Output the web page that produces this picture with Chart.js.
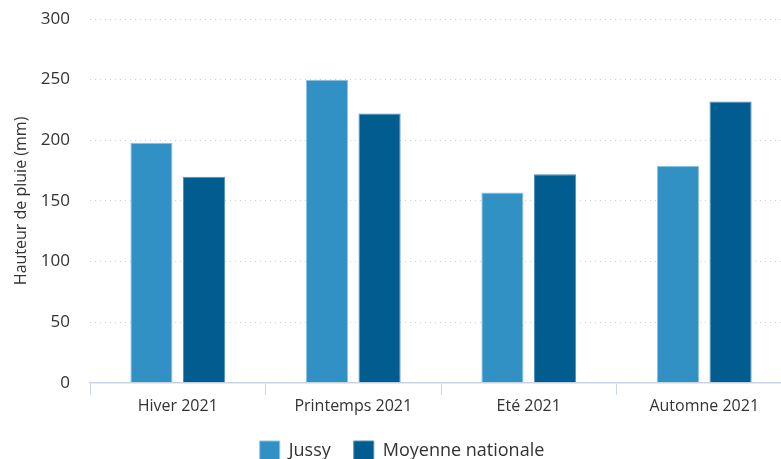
<!DOCTYPE html>
<html>
<head>
<meta charset="utf-8">
<script src="https://cdn.jsdelivr.net/npm/chart.js@4"></script>
<style>
  html, body { margin: 0; padding: 0; background: #fff; overflow: hidden; }
  #wrap { width: 792px; height: 470px; }
</style>
</head>
<body>
<div id="wrap"><canvas id="rain-chart"></canvas></div>
<script>
const seasons = ['Hiver 2021', 'Printemps 2021', 'Eté 2021', 'Automne 2021'];
const jussy = [198, 250, 157, 179];
const nationalAverage = [170, 222, 172, 232];
const yTicks = [0, 50, 100, 150, 200, 250, 300];

const font = "'Open Sans', sans-serif";
const ctx = document.getElementById('rain-chart').getContext('2d');

const rainChart = new Chart(ctx, {
    type: 'bar',
    data: {
        labels: seasons,
        datasets: [{
            label: 'Jussy',
            data: jussy,
            backgroundColor: '#3190c4',
            borderColor: '#8fc2e2',
            borderWidth: 1,
            borderSkipped: 'bottom',
            categoryPercentage: 0.6,
            barPercentage: 0.8
        }, {
            label: 'Moyenne nationale',
            data: nationalAverage,
            backgroundColor: '#015c8f',
            borderColor: '#4f8fb9',
            borderWidth: 1,
            borderSkipped: 'bottom',
            categoryPercentage: 0.6,
            barPercentage: 0.8
        }]
    },
    options: {
        responsive: true,
        maintainAspectRatio: false,
        animation: false,
        layout: { padding: { top: 19, left: 12, right: 0, bottom: 0 } },
        plugins: {
            tooltip: { enabled: false },
            legend: {
                position: 'bottom',
                labels: {
                    boxWidth: 20,
                    boxHeight: 19,
                    padding: 23,
                    color: '#333',
                    font: { family: font, size: 18 }
                }
            }
        },
        scales: {
            x: {
                afterFit: axis => { axis.paddingLeft = 0; axis.paddingRight = 0; },
                grid: {
                    offset: true,
                    drawOnChartArea: false,
                    drawTicks: true,
                    tickLength: 12,
                    color: '#c9d5e3'
                },
                border: { color: '#c9d5e3', width: 1.5 },
                ticks: {
                    color: '#333',
                    padding: 2,
                    font: { family: font, size: 16 }
                }
            },
            y: {
                min: 0,
                max: 300,
                afterBuildTicks: axis => { axis.ticks = yTicks.map(v => ({ value: v })); },
                afterFit: axis => {
                    axis.width = 78;
                    axis.paddingTop = 0;
                    axis.paddingBottom = 0;
                },
                grid: {
                    drawTicks: false,
                    color: '#cfcfcf',
                    lineWidth: 1
                },
                border: { display: false, dash: [1, 4] },
                ticks: {
                    color: '#333',
                    padding: 20,
                    font: { family: font, size: 17 }
                },
                title: {
                    display: true,
                    text: 'Hauteur de pluie (mm)',
                    color: '#333',
                    padding: { top: 0, bottom: 10 },
                    font: { family: font, size: 16 }
                }
            }
        }
    }
});
</script>
</body>
</html>
